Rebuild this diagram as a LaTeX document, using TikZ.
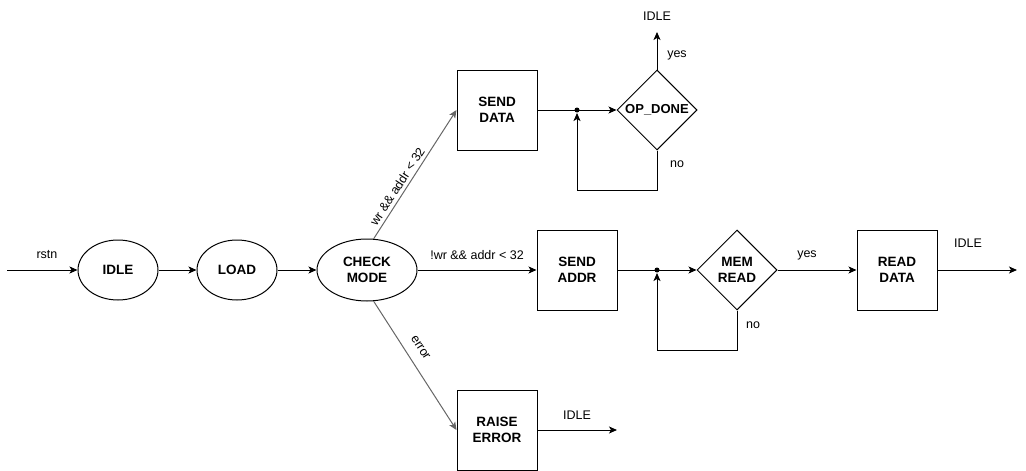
\documentclass[tikz,border=0pt]{standalone}
\usepackage{fontspec}
\setmainfont{Liberation Sans}
\usetikzlibrary{arrows.meta,shapes.geometric}
\definecolor{edgegray}{RGB}{102,102,102}

\begin{document}
\begin{tikzpicture}[x=1pt,y=-1pt,line width=1pt,
  state/.style={draw,ellipse,minimum width=80pt,minimum height=60pt,inner sep=0pt,align=center,font=\fontsize{13.5}{15.5}\selectfont\bfseries},
  box/.style={draw,minimum width=80pt,minimum height=80pt,inner sep=0pt,align=center,font=\fontsize{13.5}{15.5}\selectfont\bfseries},
  test/.style={draw,diamond,aspect=1,minimum width=80pt,minimum height=80pt,inner sep=0pt},
  bold/.style={align=center,font=\fontsize{13.5}{15.5}\selectfont\bfseries},
  lbl/.style={font=\fontsize{12.5}{14}\selectfont},
  arr/.style={-{Stealth[length=8pt,width=7pt,inset=2pt]}},
  junc/.style={circle,fill,inner sep=0pt,minimum size=5pt}]
  \useasboundingbox (0,0) rectangle (1026,471);
  % states
  \node [state] (idle) at (118,270) {IDLE};
  \node [state] (load) at (237,270) {LOAD};
  \node [state,minimum width=100pt,minimum height=62pt] (chk) at (367,270) {CHECK\\MODE};
  \node [box] (sdat) at (497,110) {SEND\\DATA};
  \node [box] (sadr) at (577,270) {SEND\\ADDR};
  \node [box] (rdat) at (897,270) {READ\\DATA};
  \node [box] (rerr) at (497,430) {RAISE\\ERROR};
  \node [test] (opd) at (657,110) {};
  \node [bold,font=\fontsize{13}{15}\selectfont\bfseries] at (opd) {OP\_DONE};
  \node [test] (mrd) at (737,270) {};
  \node [bold] at (mrd) {MEM\\READ};
  \node [junc] (j1) at (577,110) {};
  \node [junc] (j2) at (657,270) {};
  \coordinate (rst) at (7,270);
  \coordinate (outa) at (657,32);
  \coordinate (outb) at (1017,270);
  \coordinate (outc) at (617,430);
  % connectors
  \draw [arr] (rst) -- (idle);
  \draw [arr] (idle) -- (load);
  \draw [arr] (load) -- (chk);
  \draw [arr,edgegray] (chk.78) -- node [lbl,black,sloped,above,pos=0.37] {wr \&\& addr < 32} (sdat.west);
  \draw [arr] (chk) -- (sadr);
  \draw [arr,edgegray] (chk.282) -- node [lbl,black,sloped,above=7pt,pos=0.42] {error} (rerr.west);
  \draw [arr] (sdat) -- (opd);
  \draw [arr] (opd.south) -- ++(0,40) -| (j1);
  \draw [arr] (opd.north) -- (outa);
  \draw [arr] (sadr) -- (mrd);
  \draw [arr] (mrd.south) -- ++(0,40) -| (j2);
  \draw [arr] (mrd) -- (rdat);
  \draw [arr] (rdat) -- (outb);
  \draw [arr] (rerr) -- (outc);
  % labels
  \node [lbl] at (47,255) {rstn};
  \node [lbl] at (657,16) {IDLE};
  \node [lbl] at (677,55) {yes};
  \node [lbl] at (677,164) {no};
  \node [lbl] at (477,255) {!wr \&\& addr < 32};
  \node [lbl] at (753,325) {no};
  \node [lbl] at (807,255) {yes};
  \node [lbl] at (968,243) {IDLE};
  \node [lbl] at (577,415) {IDLE};
\end{tikzpicture}
\end{document}
